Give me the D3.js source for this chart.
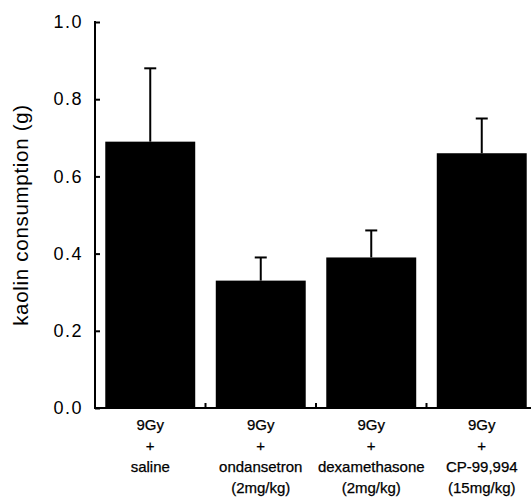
<!DOCTYPE html>
<html>
<head>
<meta charset="utf-8">
<script src="https://cdn.jsdelivr.net/npm/d3@7"></script>
<style>
  html, body { margin: 0; padding: 0; background: #fff; }
  svg { display: block; }
  text { font-family: "Liberation Sans", Arial, sans-serif; fill: #000; }
</style>
</head>
<body>
<svg id="chart" width="531" height="500"></svg>
<script>
// ---- data ----
const categories = ["saline", "ondansetron", "dexamethasone", "CP-99,994"];
const labelLines = [
  ["9Gy", "+", "saline"],
  ["9Gy", "+", "ondansetron", "(2mg/kg)"],
  ["9Gy", "+", "dexamethasone", "(2mg/kg)"],
  ["9Gy", "+", "CP-99,994", "(15mg/kg)"]
];
const means = [0.69, 0.33, 0.39, 0.66];
const errors = [0.19, 0.06, 0.07, 0.09];
const yTicks = [0.0, 0.2, 0.4, 0.6, 0.8, 1.0];
const yTitle = "kaolin consumption (g)";

// ---- layout ----
const svg = d3.select("#chart");
const x0 = 95, x1 = 537, yTop = 22, yBot = 408;

const x = d3.scaleBand().domain(categories).range([x0, x1])
  .paddingInner(0.186).paddingOuter(0.093);
const y = d3.scaleLinear().domain([0, 1]).range([yBot, yTop]);

// bars
svg.append("g").selectAll("rect").data(categories).join("rect")
  .attr("x", d => x(d))
  .attr("width", x.bandwidth())
  .attr("y", (d, i) => y(means[i]))
  .attr("height", (d, i) => yBot - y(means[i]))
  .attr("fill", "#000");

// error bars (upper only)
const eb = svg.append("g").attr("stroke", "#000").attr("stroke-width", 2);
categories.forEach((c, i) => {
  const cx = x(c) + x.bandwidth() / 2;
  eb.append("line").attr("x1", cx).attr("x2", cx)
    .attr("y1", y(means[i])).attr("y2", y(means[i] + errors[i]));
  eb.append("line").attr("x1", cx - 6).attr("x2", cx + 6)
    .attr("y1", y(means[i] + errors[i])).attr("y2", y(means[i] + errors[i]));
});

// y axis (ticks inward)
const yAxis = d3.axisLeft(y).tickValues(yTicks).tickFormat(d3.format(".1f"))
  .tickSizeInner(-5).tickSizeOuter(0).tickPadding(12);
const gy = svg.append("g").attr("transform", `translate(${x0},0)`).call(yAxis);
gy.select(".domain").attr("stroke-width", 2).attr("d", `M0,${yBot}V${yTop - 1}`);
gy.selectAll(".tick line").attr("stroke-width", 2);
gy.selectAll(".tick text")
  .style("font-family", '"Liberation Sans", Arial, sans-serif')
  .style("font-size", "18px").style("letter-spacing", "1.5px");

// x axis baseline
svg.append("line").attr("x1", x0 - 1).attr("x2", 531)
  .attr("y1", yBot).attr("y2", yBot)
  .attr("stroke", "#000").attr("stroke-width", 2);

// x ticks at category boundaries (inward)
const step = x.step();
const boundaries = categories.slice(1).map(c => x(c) - step * x.paddingInner() / 2);
svg.append("g").selectAll("line").data(boundaries).join("line")
  .attr("x1", d => d).attr("x2", d => d)
  .attr("y1", yBot).attr("y2", yBot - 5)
  .attr("stroke", "#000").attr("stroke-width", 2);

// x labels
const gl = svg.append("g");
categories.forEach((c, i) => {
  const cx = x(c) + x.bandwidth() / 2;
  const t = gl.append("text").attr("text-anchor", "middle")
    .attr("font-size", 15).attr("stroke", "#000").attr("stroke-width", 0.25);
  labelLines[i].forEach((line, j) => {
    t.append("tspan").attr("x", cx).attr("y", 430 + j * 21).text(line);
  });
});

// y title
svg.append("text")
  .attr("transform", `translate(28,${(yTop + yBot) / 2}) rotate(-90)`)
  .attr("text-anchor", "middle")
  .attr("font-size", 20.5)
  .style("letter-spacing", "0.7px")
  .text(yTitle);
</script>
</body>
</html>
